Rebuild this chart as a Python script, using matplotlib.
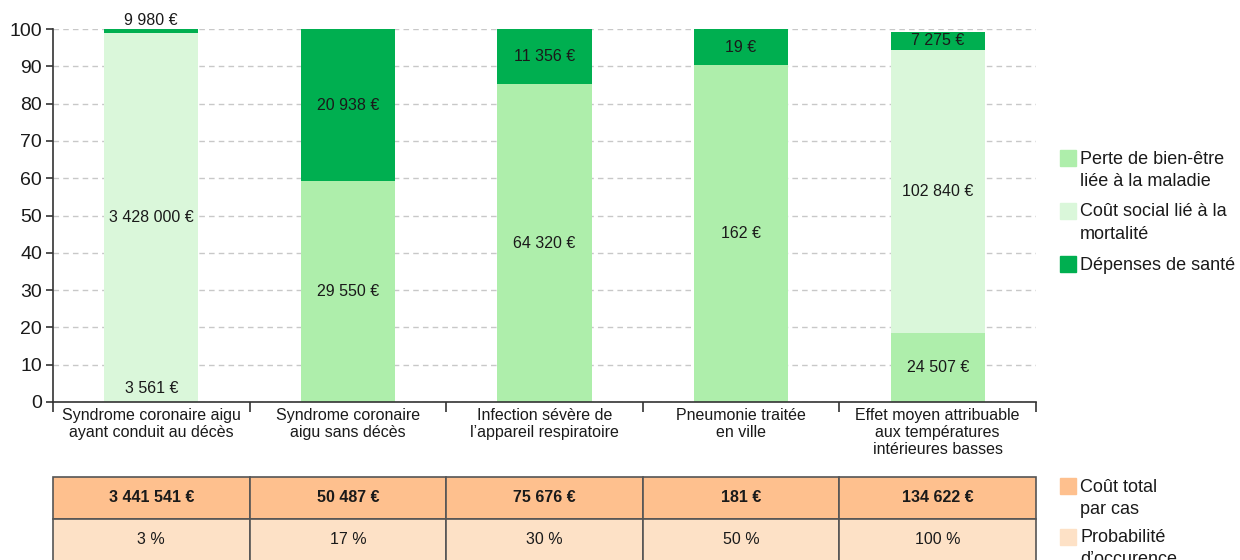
import numpy as np
import matplotlib
matplotlib.use("Agg")
from matplotlib import pyplot as plt
from matplotlib.patches import Rectangle

plt.rcParams['font.family'] = ['Liberation Sans', 'DejaVu Sans']

categories = [
    "Syndrome coronaire aigu\nayant conduit au décès",
    "Syndrome coronaire\naigu sans décès",
    "Infection sévère de\nl’appareil respiratoire",
    "Pneumonie traitée\nen ville",
    "Effet moyen attribuable\naux températures\nintérieures basses",
]

# share of each cost in the total (in %)
welfare_pct = [0.1, 59.2, 85.2, 90.3, 18.6]
mortality_pct = [98.8, 0.0, 0.0, 0.0, 75.8]
health_pct = [1.1, 40.8, 14.8, 9.7, 4.8]

welfare_lbl = ["3 561 €", "29 550 €", "64 320 €", "162 €", "24 507 €"]
mortality_lbl = ["3 428 000 €", "", "", "", "102 840 €"]
health_lbl = ["9 980 €", "20 938 €", "11 356 €", "19 €", "7 275 €"]

total_lbl = ["3 441 541 €", "50 487 €", "75 676 €", "181 €", "134 622 €"]
prob_lbl = ["3 %", "17 %", "30 %", "50 %", "100 %"]

c_welfare = "#aeeeab"
c_mortality = "#daf7da"
c_health = "#00af50"
c_total = "#fec08e"
c_prob = "#fde1c6"
txt = "#1a1a1a"

W, H = 1240, 560
fig = plt.figure(figsize=(W / 100, H / 100), dpi=100)

def fx(px):
    return px / W

def fy(py):
    return 1 - py / H

ax = fig.add_axes([fx(53), fy(402), fx(1036) - fx(53), fy(29) - fy(402)])
x = np.arange(len(categories))
bw = 0.48

series = [
    (welfare_pct, welfare_lbl, c_welfare),
    (mortality_pct, mortality_lbl, c_mortality),
    (health_pct, health_lbl, c_health),
]
bottom = np.zeros(len(categories))
for vals, lbls, col in series:
    vals = np.array(vals)
    ax.bar(x, vals, bw, bottom=bottom, color=col, zorder=2)
    for i in range(len(x)):
        if not lbls[i]:
            continue
        if vals[i] >= 3:
            ypos, va = bottom[i] + vals[i] / 2, "center"
        elif bottom[i] == 0:
            ypos, va = 3.5, "center"
        else:
            ypos, va = bottom[i] + vals[i] + 0.4, "bottom"
        ax.text(x[i], ypos, lbls[i], ha="center", va=va, fontsize=11.5,
                color=txt, zorder=3, clip_on=False)
    bottom = bottom + vals

ax.set_xlim(-0.5, len(categories) - 0.5)
ax.set_ylim(0, 100)
ax.set_yticks(np.arange(0, 101, 10))
ax.yaxis.grid(True, color="#c8c8c8", linestyle=(0, (4, 3)), linewidth=1)
ax.set_axisbelow(True)

ax.set_xticks(x)
ax.set_xticklabels(categories, fontsize=11.5, color=txt, linespacing=1.2)
ax.set_xticks(np.arange(-0.5, len(categories)), minor=True)
ax.tick_params(axis="x", which="major", length=0, pad=4)
ax.tick_params(axis="x", which="minor", length=7, width=1.2, color="#333333")
ax.tick_params(axis="y", length=5, width=1.2, color="#333333",
               labelsize=14, labelcolor=txt, pad=3)
for s in ["top", "right"]:
    ax.spines[s].set_visible(False)
for s in ["left", "bottom"]:
    ax.spines[s].set_color("#333333")
    ax.spines[s].set_linewidth(1.2)

# table under the chart
tax = fig.add_axes([fx(53), fy(561), fx(1036) - fx(53), fy(477) - fy(561)])
tax.axis("off")
tab = tax.table(cellText=[total_lbl, prob_lbl],
                cellColours=[[c_total] * 5, [c_prob] * 5],
                cellLoc="center", bbox=[0, 0, 1, 1])
tab.auto_set_font_size(False)
for (r, c), cell in tab.get_celld().items():
    cell.set_edgecolor("#555555")
    cell.set_linewidth(1.2)
    cell.get_text().set_color(txt)
    cell.get_text().set_fontsize(11.5)
    if r == 0:
        cell.get_text().set_fontweight("bold")

# legends drawn by hand
def legend_item(px_top, col, lines):
    fig.patches.append(Rectangle((fx(1060), fy(px_top + 16)), fx(16), fy(0) - fy(16),
                                 transform=fig.transFigure, color=col))
    for k, line in enumerate(lines):
        fig.text(fx(1080), fy(px_top + 9 + 22 * k), line, fontsize=13,
                 color=txt, va="center", ha="left")

legend_item(150, c_welfare, ["Perte de bien-être", "liée à la maladie"])
legend_item(203, c_mortality, ["Coût social lié à la", "mortalité"])
legend_item(256, c_health, ["Dépenses de santé"])
legend_item(478, c_total, ["Coût total", "par cas"])
legend_item(529, c_prob, ["Probabilité", "d’occurence"])

fig.savefig("out.png", dpi=100)
